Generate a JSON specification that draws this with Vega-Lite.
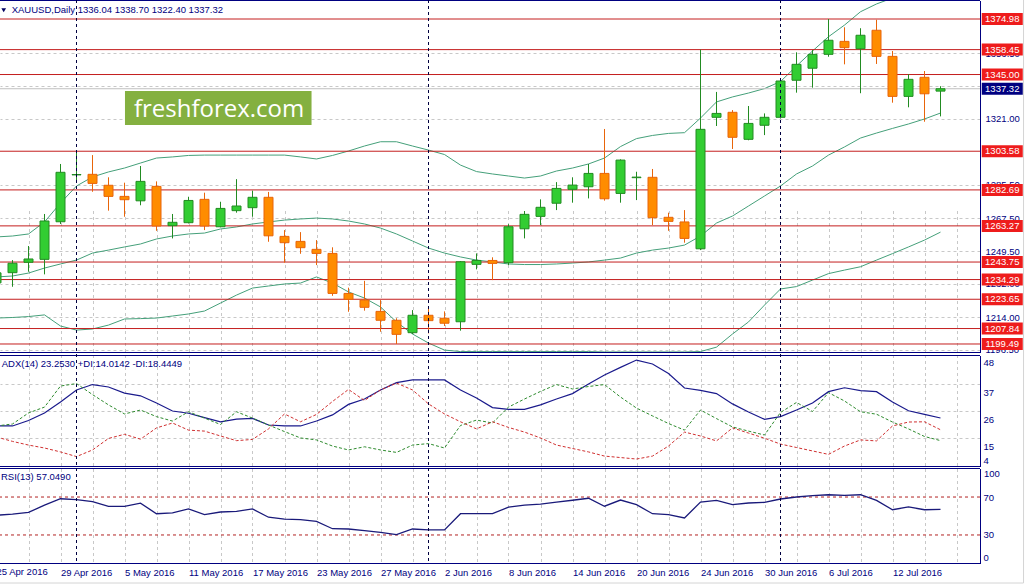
{
"$schema": "https://vega.github.io/schema/vega-lite/v6.json",
"width": 980, "height": 563,
"autosize": {"type": "none"},
"padding": {"left": 0, "top": 0, "right": 45, "bottom": 22},
"background": "#ffffff",
"config": {"view": {"stroke": null}, "font": "Liberation Sans", "axis": {"labelFont": "Liberation Sans"}},
"datasets": {
"bars": [
{"i":-1,"d":"25 Apr 2016","o":1232.5,"h":1240.5,"l":1229.5,"c":1237.9,"bu":1257.3,"bm":1235.7,"bl":1213.5,"adx":20.0,"pdi":20.0,"mdi":15.5,"rsi":50.8},
{"i":0,"d":"26 Apr 2016","o":1238.0,"h":1244.8,"l":1230.4,"c":1243.1,"bu":1257.8,"bm":1236.2,"bl":1213.8,"adx":20.0,"pdi":20.8,"mdi":13.7,"rsi":51.9},
{"i":1,"d":"27 Apr 2016","o":1243.6,"h":1252.4,"l":1238.5,"c":1245.4,"bu":1258.9,"bm":1237.8,"bl":1214.3,"adx":22.2,"pdi":25.3,"mdi":12.2,"rsi":53.8},
{"i":2,"d":"28 Apr 2016","o":1245.2,"h":1269.7,"l":1237.1,"c":1265.9,"bu":1265.4,"bm":1240.5,"bl":1215.2,"adx":25.3,"pdi":27.7,"mdi":11.0,"rsi":61.4},
{"i":3,"d":"29 Apr 2016","o":1265.5,"h":1296.7,"l":1264.3,"c":1292.2,"bu":1275.6,"bm":1242.7,"bl":1209.2,"adx":29.8,"pdi":36.3,"mdi":9.4,"rsi":68.2},
{"i":4,"d":"2 May 2016","o":1290.8,"h":1303.3,"l":1286.8,"c":1291.0,"bu":1284.8,"bm":1244.8,"bl":1207.0,"adx":34.7,"pdi":37.3,"mdi":7.5,"rsi":67.2},
{"i":5,"d":"3 May 2016","o":1291.1,"h":1301.5,"l":1281.7,"c":1286.2,"bu":1289.7,"bm":1248.6,"bl":1207.6,"adx":36.9,"pdi":32.8,"mdi":10.2,"rsi":65.1},
{"i":6,"d":"4 May 2016","o":1285.2,"h":1289.5,"l":1271.5,"c":1279.2,"bu":1292.4,"bm":1250.2,"bl":1209.7,"adx":35.9,"pdi":28.6,"mdi":14.9,"rsi":60.1},
{"i":7,"d":"5 May 2016","o":1279.2,"h":1286.6,"l":1268.2,"c":1277.4,"bu":1294.5,"bm":1251.9,"bl":1213.0,"adx":33.4,"pdi":24.9,"mdi":16.6,"rsi":60.1},
{"i":8,"d":"6 May 2016","o":1276.8,"h":1295.6,"l":1274.4,"c":1287.3,"bu":1297.2,"bm":1253.5,"bl":1213.2,"adx":32.3,"pdi":26.5,"mdi":14.6,"rsi":63.5},
{"i":9,"d":"9 May 2016","o":1284.6,"h":1287.3,"l":1260.6,"c":1263.2,"bu":1299.9,"bm":1256.2,"bl":1213.5,"adx":29.4,"pdi":23.8,"mdi":19.2,"rsi":52.4},
{"i":10,"d":"10 May 2016","o":1263.4,"h":1269.7,"l":1256.5,"c":1265.2,"bu":1300.5,"bm":1257.8,"bl":1214.6,"adx":26.1,"pdi":22.0,"mdi":21.2,"rsi":53.2},
{"i":11,"d":"11 May 2016","o":1265.0,"h":1279.0,"l":1264.6,"c":1277.0,"bu":1301.3,"bm":1258.9,"bl":1215.7,"adx":25.2,"pdi":25.8,"mdi":18.3,"rsi":57.4},
{"i":12,"d":"12 May 2016","o":1277.6,"h":1281.2,"l":1261.0,"c":1263.2,"bu":1301.5,"bm":1259.4,"bl":1217.3,"adx":23.4,"pdi":23.2,"mdi":17.9,"rsi":51.4},
{"i":13,"d":"13 May 2016","o":1262.8,"h":1276.3,"l":1262.5,"c":1272.7,"bu":1301.5,"bm":1261.6,"bl":1221.6,"adx":21.7,"pdi":20.6,"mdi":15.9,"rsi":54.2},
{"i":14,"d":"16 May 2016","o":1271.5,"h":1288.5,"l":1270.4,"c":1274.0,"bu":1301.5,"bm":1262.7,"bl":1225.9,"adx":22.8,"pdi":25.8,"mdi":14.0,"rsi":54.8},
{"i":15,"d":"17 May 2016","o":1273.1,"h":1282.3,"l":1268.2,"c":1278.7,"bu":1301.5,"bm":1264.3,"bl":1229.7,"adx":23.1,"pdi":23.2,"mdi":14.5,"rsi":57.4},
{"i":16,"d":"18 May 2016","o":1278.7,"h":1281.6,"l":1254.7,"c":1257.9,"bu":1301.5,"bm":1265.4,"bl":1230.8,"adx":20.4,"pdi":20.4,"mdi":18.8,"rsi":48.7},
{"i":17,"d":"19 May 2016","o":1257.6,"h":1261.0,"l":1243.4,"c":1254.2,"bu":1301.5,"bm":1266.4,"bl":1231.9,"adx":20.0,"pdi":17.7,"mdi":24.9,"rsi":46.8},
{"i":18,"d":"20 May 2016","o":1254.9,"h":1259.9,"l":1248.2,"c":1251.5,"bu":1300.5,"bm":1267.0,"bl":1232.4,"adx":20.0,"pdi":15.1,"mdi":21.7,"rsi":46.1},
{"i":19,"d":"23 May 2016","o":1250.6,"h":1255.6,"l":1242.1,"c":1248.4,"bu":1299.4,"bm":1267.5,"bl":1235.7,"adx":22.0,"pdi":14.3,"mdi":24.7,"rsi":44.3},
{"i":20,"d":"24 May 2016","o":1248.4,"h":1251.7,"l":1225.5,"c":1226.8,"bu":1301.3,"bm":1267.0,"bl":1232.4,"adx":24.5,"pdi":11.8,"mdi":30.0,"rsi":36.6},
{"i":21,"d":"25 May 2016","o":1226.8,"h":1229.9,"l":1216.9,"c":1223.6,"bu":1303.7,"bm":1265.9,"bl":1227.6,"adx":28.8,"pdi":10.2,"mdi":34.9,"rsi":36.3},
{"i":22,"d":"26 May 2016","o":1223.2,"h":1233.6,"l":1217.5,"c":1219.3,"bu":1306.4,"bm":1264.3,"bl":1224.3,"adx":31.0,"pdi":11.5,"mdi":30.4,"rsi":34.5},
{"i":23,"d":"27 May 2016","o":1217.1,"h":1223.2,"l":1206.1,"c":1212.3,"bu":1308.7,"bm":1262.1,"bl":1219.5,"adx":34.7,"pdi":10.2,"mdi":34.7,"rsi":32.7},
{"i":24,"d":"30 May 2016","o":1212.3,"h":1213.4,"l":1199.5,"c":1204.7,"bu":1308.7,"bm":1258.9,"bl":1211.4,"adx":37.7,"pdi":9.2,"mdi":37.5,"rsi":30.3},
{"i":25,"d":"31 May 2016","o":1205.6,"h":1217.8,"l":1204.9,"c":1215.0,"bu":1306.4,"bm":1255.1,"bl":1204.9,"adx":38.8,"pdi":12.2,"mdi":34.7,"rsi":36.3},
{"i":26,"d":"1 Jun 2016","o":1215.0,"h":1220.0,"l":1205.2,"c":1212.1,"bu":1304.2,"bm":1251.3,"bl":1200.0,"adx":38.8,"pdi":12.8,"mdi":29.0,"rsi":35.3},
{"i":27,"d":"2 Jun 2016","o":1213.4,"h":1217.1,"l":1209.2,"c":1210.7,"bu":1301.8,"bm":1248.6,"bl":1196.2,"adx":38.8,"pdi":11.0,"mdi":24.9,"rsi":35.3},
{"i":28,"d":"3 Jun 2016","o":1211.5,"h":1244.3,"l":1206.7,"c":1243.9,"bu":1296.1,"bm":1246.5,"bl":1195.4,"adx":34.7,"pdi":20.2,"mdi":21.7,"rsi":52.4},
{"i":29,"d":"6 Jun 2016","o":1242.5,"h":1248.4,"l":1239.8,"c":1244.6,"bu":1292.6,"bm":1244.8,"bl":1195.4,"adx":31.4,"pdi":22.4,"mdi":18.8,"rsi":52.4},
{"i":30,"d":"7 Jun 2016","o":1244.6,"h":1246.3,"l":1234.0,"c":1243.0,"bu":1291.3,"bm":1243.8,"bl":1195.4,"adx":27.5,"pdi":21.2,"mdi":21.7,"rsi":52.4},
{"i":31,"d":"8 Jun 2016","o":1243.4,"h":1264.2,"l":1242.1,"c":1262.8,"bu":1290.2,"bm":1242.7,"bl":1195.4,"adx":26.8,"pdi":27.7,"mdi":19.4,"rsi":59.3},
{"i":32,"d":"9 Jun 2016","o":1261.7,"h":1271.3,"l":1256.5,"c":1269.5,"bu":1289.1,"bm":1242.4,"bl":1195.4,"adx":26.8,"pdi":31.0,"mdi":17.5,"rsi":61.4},
{"i":33,"d":"10 Jun 2016","o":1268.4,"h":1277.6,"l":1263.7,"c":1273.3,"bu":1290.2,"bm":1242.4,"bl":1195.4,"adx":28.6,"pdi":34.1,"mdi":15.1,"rsi":62.6},
{"i":34,"d":"13 Jun 2016","o":1275.5,"h":1286.9,"l":1271.8,"c":1283.5,"bu":1292.9,"bm":1242.7,"bl":1195.4,"adx":31.0,"pdi":36.9,"mdi":12.2,"rsi":64.7},
{"i":35,"d":"14 Jun 2016","o":1283.0,"h":1289.5,"l":1275.8,"c":1285.3,"bu":1294.5,"bm":1243.2,"bl":1195.4,"adx":33.2,"pdi":35.1,"mdi":10.8,"rsi":66.6},
{"i":36,"d":"15 Jun 2016","o":1284.4,"h":1296.7,"l":1278.1,"c":1291.6,"bu":1296.7,"bm":1243.8,"bl":1195.4,"adx":37.1,"pdi":36.1,"mdi":9.4,"rsi":68.7},
{"i":37,"d":"16 Jun 2016","o":1291.6,"h":1315.6,"l":1276.9,"c":1277.9,"bu":1299.9,"bm":1244.8,"bl":1195.2,"adx":40.8,"pdi":36.9,"mdi":7.7,"rsi":60.3},
{"i":38,"d":"17 Jun 2016","o":1280.8,"h":1299.2,"l":1275.8,"c":1298.8,"bu":1306.1,"bm":1245.9,"bl":1195.2,"adx":43.9,"pdi":31.8,"mdi":7.1,"rsi":66.8},
{"i":39,"d":"20 Jun 2016","o":1289.3,"h":1292.5,"l":1277.2,"c":1289.6,"bu":1310.4,"bm":1248.6,"bl":1195.2,"adx":46.9,"pdi":27.3,"mdi":6.5,"rsi":61.9},
{"i":40,"d":"21 Jun 2016","o":1289.5,"h":1294.0,"l":1263.7,"c":1267.7,"bu":1312.1,"bm":1250.2,"bl":1195.2,"adx":45.3,"pdi":24.1,"mdi":7.7,"rsi":52.4},
{"i":41,"d":"22 Jun 2016","o":1267.9,"h":1270.4,"l":1260.6,"c":1265.7,"bu":1313.2,"bm":1251.3,"bl":1195.2,"adx":41.4,"pdi":21.0,"mdi":11.8,"rsi":51.4},
{"i":42,"d":"23 Jun 2016","o":1265.4,"h":1271.8,"l":1254.2,"c":1256.5,"bu":1313.6,"bm":1252.9,"bl":1195.2,"adx":35.5,"pdi":18.3,"mdi":17.5,"rsi":47.9},
{"i":43,"d":"24 Jun 2016","o":1250.9,"h":1358.45,"l":1250.2,"c":1315.4,"bu":1321.5,"bm":1257.8,"bl":1195.4,"adx":34.5,"pdi":26.5,"mdi":15.9,"rsi":64.7},
{"i":44,"d":"27 Jun 2016","o":1321.9,"h":1335.6,"l":1317.2,"c":1324.0,"bu":1330.2,"bm":1264.8,"bl":1197.8,"adx":33.2,"pdi":23.0,"mdi":13.9,"rsi":66.4},
{"i":45,"d":"28 Jun 2016","o":1324.6,"h":1325.8,"l":1304.8,"c":1311.1,"bu":1332.9,"bm":1268.6,"bl":1204.9,"adx":29.0,"pdi":19.6,"mdi":19.2,"rsi":61.9},
{"i":46,"d":"29 Jun 2016","o":1310.0,"h":1328.0,"l":1309.5,"c":1318.6,"bu":1335.0,"bm":1274.0,"bl":1211.4,"adx":25.7,"pdi":17.9,"mdi":17.1,"rsi":63.7},
{"i":47,"d":"30 Jun 2016","o":1317.6,"h":1324.0,"l":1312.3,"c":1321.9,"bu":1337.4,"bm":1279.4,"bl":1220.5,"adx":22.7,"pdi":16.3,"mdi":15.0,"rsi":64.3},
{"i":48,"d":"1 Jul 2016","o":1321.9,"h":1342.2,"l":1321.2,"c":1341.5,"bu":1341.2,"bm":1284.8,"bl":1229.2,"adx":23.8,"pdi":25.5,"mdi":12.6,"rsi":67.9},
{"i":49,"d":"4 Jul 2016","o":1341.9,"h":1357.0,"l":1335.2,"c":1350.5,"bu":1349.6,"bm":1291.3,"bl":1230.5,"adx":26.5,"pdi":29.6,"mdi":11.2,"rsi":70.0},
{"i":50,"d":"5 Jul 2016","o":1348.4,"h":1358.2,"l":1337.9,"c":1355.9,"bu":1357.7,"bm":1295.6,"bl":1234.0,"adx":29.4,"pdi":25.9,"mdi":9.8,"rsi":71.4},
{"i":51,"d":"6 Jul 2016","o":1355.9,"h":1374.98,"l":1354.6,"c":1363.5,"bu":1365.4,"bm":1301.5,"bl":1237.5,"adx":34.0,"pdi":33.6,"mdi":8.4,"rsi":72.4},
{"i":52,"d":"7 Jul 2016","o":1362.9,"h":1370.5,"l":1350.5,"c":1359.5,"bu":1371.7,"bm":1305.9,"bl":1239.4,"adx":35.6,"pdi":30.2,"mdi":11.8,"rsi":71.7},
{"i":53,"d":"8 Jul 2016","o":1358.9,"h":1370.0,"l":1334.9,"c":1366.2,"bu":1378.9,"bm":1310.7,"bl":1241.2,"adx":34.4,"pdi":25.8,"mdi":14.3,"rsi":72.4},
{"i":54,"d":"11 Jul 2016","o":1368.9,"h":1374.6,"l":1350.7,"c":1354.8,"bu":1383.1,"bm":1313.4,"bl":1244.8,"adx":34.0,"pdi":24.8,"mdi":13.9,"rsi":66.4},
{"i":55,"d":"12 Jul 2016","o":1354.8,"h":1357.7,"l":1329.8,"c":1333.2,"bu":1386.3,"bm":1315.9,"bl":1248.3,"adx":29.8,"pdi":21.6,"mdi":20.0,"rsi":56.6},
{"i":56,"d":"13 Jul 2016","o":1333.2,"h":1345.2,"l":1327.3,"c":1342.4,"bu":1389.0,"bm":1318.3,"bl":1251.9,"adx":26.2,"pdi":18.8,"mdi":21.6,"rsi":59.5},
{"i":57,"d":"14 Jul 2016","o":1343.5,"h":1346.9,"l":1319.5,"c":1334.6,"bu":1391.2,"bm":1321.0,"bl":1255.6,"adx":24.7,"pdi":15.7,"mdi":21.7,"rsi":56.6},
{"i":58,"d":"15 Jul 2016","o":1336.04,"h":1338.7,"l":1322.4,"c":1337.32,"bu":1392.8,"bm":1324.2,"bl":1259.9,"adx":23.253,"pdi":14.0142,"mdi":18.4449,"rsi":57.049}
],
"levels": [{"p":1374.98},{"p":1358.45},{"p":1345.00},{"p":1303.58},{"p":1282.69},{"p":1263.27},{"p":1243.75},{"p":1234.29},{"p":1223.65},{"p":1207.84},{"p":1199.49}]
},
"layer": [
 {"data": {"name": "bars"}, "mark": {"type": "line", "color": "#45A07A", "strokeWidth": 1, "clip": true},
  "encoding": {
   "x": {"field": "i", "type": "quantitative", "scale": {"domain": [-0.78125, 60.46875], "nice": false, "zero": false, "padding": 0},
     "axis": {"orient": "bottom", "values": [-1,1,3,5,7,9,11,13,15,17,19,21,23,25,27,29,31,33,35,37,39,41,43,45,47,49,51,53,55,57,59],
       "labelExpr": "datum.value <= 55 && (datum.value + 1) % 4 == 0 ? ['25 Apr 2016','29 Apr 2016','5 May 2016','11 May 2016','17 May 2016','23 May 2016','27 May 2016','2 Jun 2016','8 Jun 2016','14 Jun 2016','20 Jun 2016','24 Jun 2016','30 Jun 2016','6 Jul 2016','12 Jul 2016'][(datum.value + 1) / 4] : ''",
       "grid": true, "gridColor": "#C8C8C8", "gridDash": [3,3], "gridWidth": 1, "ticks": false, "domain": true, "domainColor": "#000080",
       "labelAlign": "left", "labelBaseline": "top", "labelPadding": 4, "labelFlush": false, "labelOverlap": false, "labelColor": "#000080", "labelFontSize": 9.5, "title": null}},
   "y": {"field": "bu", "type": "quantitative", "scale": {"domain": [1194.9, 1384.97], "range": [352.5, 0.5], "nice": false, "zero": false},
     "axis": {"orient": "right", "values": [1196.5,1214,1232,1249.5,1267.5,1285.5,1321,1339,1356.5], "format": ".2f",
       "grid": true, "gridColor": "#C8C8C8", "gridDash": [3,3], "ticks": false, "domain": true, "domainColor": "#000080",
       "labelPadding": 5, "labelColor": "#000080", "labelFontSize": 9.5, "labelFlush": false, "labelOverlap": false, "title": null}}
  }},
 {"data": {"name": "bars"}, "mark": {"type": "line", "color": "#45A07A", "strokeWidth": 1, "clip": true},
  "encoding": {"x": {"field": "i", "type": "quantitative", "axis": null},
   "y": {"field": "bm", "type": "quantitative", "scale": {"domain": [1194.9, 1384.97], "range": [352.5, 0.5], "nice": false, "zero": false}, "axis": null}}},
 {"data": {"name": "bars"}, "mark": {"type": "line", "color": "#45A07A", "strokeWidth": 1, "clip": true},
  "encoding": {"x": {"field": "i", "type": "quantitative", "axis": null},
   "y": {"field": "bl", "type": "quantitative", "scale": {"domain": [1194.9, 1384.97], "range": [352.5, 0.5], "nice": false, "zero": false}, "axis": null}}},
 {"data": {"name": "bars"}, "transform": [{"filter": "datum.i == 58"}], "mark": {"type": "rule", "color": "#C0C0C0", "strokeWidth": 1},
  "encoding": {"y": {"field": "c", "type": "quantitative", "scale": {"domain": [1194.9, 1384.97], "range": [352.5, 0.5], "nice": false, "zero": false}, "axis": null}}},
 {"data": {"name": "levels"}, "mark": {"type": "rule", "color": "#C41E1E", "strokeWidth": 1},
  "encoding": {"y": {"field": "p", "type": "quantitative", "scale": {"domain": [1194.9, 1384.97], "range": [352.5, 0.5], "nice": false, "zero": false}, "axis": null}}},
 {"data": {"name": "bars"}, "mark": {"type": "rule", "strokeWidth": 1, "clip": true},
  "encoding": {"x": {"field": "i", "type": "quantitative", "axis": null},
   "y": {"field": "l", "type": "quantitative", "scale": {"domain": [1194.9, 1384.97], "range": [352.5, 0.5], "nice": false, "zero": false}, "axis": null},
   "y2": {"field": "h"},
   "color": {"condition": {"test": "datum.c >= datum.o", "value": "#228B22"}, "value": "#E8650A"}}},
 {"data": {"name": "bars"}, "mark": {"type": "bar", "size": 9, "strokeWidth": 1, "clip": true},
  "encoding": {"x": {"field": "i", "type": "quantitative", "axis": null},
   "y": {"field": "o", "type": "quantitative", "scale": {"domain": [1194.9, 1384.97], "range": [352.5, 0.5], "nice": false, "zero": false, "padding": 0}, "axis": null},
   "y2": {"field": "c"},
   "fill": {"condition": {"test": "datum.c >= datum.o", "value": "#32CD32"}, "value": "#FF8C00"},
   "stroke": {"condition": {"test": "datum.c >= datum.o", "value": "#228B22"}, "value": "#E8650A"}}},
 {"data": {"values": [{}]}, "mark": {"type": "rect", "color": "#84B040"},
  "encoding": {"x": {"datum": 7.03, "type": "quantitative", "axis": null}, "x2": {"datum": 18.69},
   "y": {"datum": 1336.1, "type": "quantitative", "scale": {"domain": [1194.9, 1384.97], "range": [352.5, 0.5], "nice": false, "zero": false, "padding": 0}, "axis": null}, "y2": {"datum": 1317.74}}},
 {"data": {"values": [{}]}, "mark": {"type": "text", "text": "freshforex.com", "font": "Open Sans", "fontSize": 24, "color": "#ffffff", "align": "center", "baseline": "alphabetic"},
  "encoding": {"x": {"datum": 12.91, "type": "quantitative", "axis": null},
   "y": {"datum": 1321.9, "type": "quantitative", "scale": {"domain": [1194.9, 1384.97], "range": [352.5, 0.5], "nice": false, "zero": false}, "axis": null}}},
 {"data": {"values": [{}]}, "mark": {"type": "text", "text": "XAUUSD,Daily  1336.04 1338.70 1322.40 1337.32", "fontSize": 9.5, "color": "#000080", "align": "left", "baseline": "middle"},
  "encoding": {"x": {"datum": -0.05, "type": "quantitative", "axis": null},
   "y": {"datum": 1379.84, "type": "quantitative", "scale": {"domain": [1194.9, 1384.97], "range": [352.5, 0.5], "nice": false, "zero": false}, "axis": null}}},
 {"data": {"values": [{}]}, "mark": {"type": "point", "shape": "triangle-down", "size": 22, "filled": true, "color": "#000060", "opacity": 1},
  "encoding": {"x": {"datum": -0.55, "type": "quantitative", "axis": null},
   "y": {"datum": 1379.7, "type": "quantitative", "scale": {"domain": [1194.9, 1384.97], "range": [352.5, 0.5], "nice": false, "zero": false}, "axis": null}}},
 {"data": {"name": "levels"}, "mark": {"type": "tick", "orient": "horizontal", "size": 41, "thickness": 12, "color": "#EE1C1C", "opacity": 1, "clip": false},
  "encoding": {"x": {"datum": 61.86, "type": "quantitative", "axis": null},
   "y": {"field": "p", "type": "quantitative", "scale": {"domain": [1194.9, 1384.97], "range": [352.5, 0.5], "nice": false, "zero": false, "padding": 0}, "axis": null}}},
 {"data": {"name": "levels"}, "mark": {"type": "text", "fontSize": 9.5, "color": "#ffffff", "align": "center", "baseline": "middle", "clip": false},
  "encoding": {"x": {"datum": 61.86, "type": "quantitative", "axis": null},
   "y": {"field": "p", "type": "quantitative", "scale": {"domain": [1194.9, 1384.97], "range": [352.5, 0.5], "nice": false, "zero": false}, "axis": null},
   "text": {"field": "p", "type": "quantitative", "format": ".2f"}}},
 {"data": {"name": "bars"}, "transform": [{"filter": "datum.i == 58"}], "mark": {"type": "tick", "orient": "horizontal", "size": 41, "thickness": 12, "color": "#000080", "opacity": 1, "clip": false},
  "encoding": {"x": {"datum": 61.86, "type": "quantitative", "axis": null},
   "y": {"field": "c", "type": "quantitative", "scale": {"domain": [1194.9, 1384.97], "range": [352.5, 0.5], "nice": false, "zero": false, "padding": 0}, "axis": null}}},
 {"data": {"name": "bars"}, "transform": [{"filter": "datum.i == 58"}], "mark": {"type": "text", "fontSize": 9.5, "color": "#ffffff", "align": "center", "baseline": "middle", "clip": false},
  "encoding": {"x": {"datum": 61.86, "type": "quantitative", "axis": null},
   "y": {"field": "c", "type": "quantitative", "scale": {"domain": [1194.9, 1384.97], "range": [352.5, 0.5], "nice": false, "zero": false}, "axis": null},
   "text": {"field": "c", "type": "quantitative", "format": ".2f"}}},
 {"data": {"values": [{}]}, "mark": {"type": "rule", "color": "#000080", "strokeWidth": 1},
  "encoding": {"y": {"datum": 1384.97, "type": "quantitative", "scale": {"domain": [1194.9, 1384.97], "range": [352.5, 0.5], "nice": false, "zero": false}, "axis": null}}},
 {"data": {"values": [{}]}, "mark": {"type": "rule", "color": "#000080", "strokeWidth": 1},
  "encoding": {"y": {"datum": 1194.9, "type": "quantitative", "scale": {"domain": [1194.9, 1384.97], "range": [352.5, 0.5], "nice": false, "zero": false}, "axis": null}}},
 {"data": {"name": "bars"}, "mark": {"type": "line", "color": "#1A1A8C", "strokeWidth": 1.2},
  "encoding": {"x": {"field": "i", "type": "quantitative", "axis": null},
   "y": {"field": "adx", "type": "quantitative", "scale": {"domain": [3.45, 48.76], "range": [466.5, 355.5], "nice": false, "zero": false},
     "axis": {"orient": "right", "values": [37,26,15], "grid": true, "gridColor": "#C8C8C8", "gridDash": [3,3],
       "ticks": false, "domain": true, "domainColor": "#000080", "labelPadding": 3, "labelColor": "#000080", "labelFontSize": 9.5,
       "labelBaseline": "top", "labelOffset": 3, "labelFlush": false, "labelOverlap": false, "title": null}}}},
 {"data": {"name": "bars"}, "mark": {"type": "line", "color": "#2E8B2E", "strokeWidth": 1, "strokeDash": [3,2]},
  "encoding": {"x": {"field": "i", "type": "quantitative", "axis": null},
   "y": {"field": "pdi", "type": "quantitative", "scale": {"domain": [3.45, 48.76], "range": [466.5, 355.5], "nice": false, "zero": false}, "axis": null}}},
 {"data": {"name": "bars"}, "mark": {"type": "line", "color": "#D03030", "strokeWidth": 1, "strokeDash": [3,2]},
  "encoding": {"x": {"field": "i", "type": "quantitative", "axis": null},
   "y": {"field": "mdi", "type": "quantitative", "scale": {"domain": [3.45, 48.76], "range": [466.5, 355.5], "nice": false, "zero": false}, "axis": null}}},
 {"data": {"values": [{}]}, "mark": {"type": "text", "text": "ADX(14) 23.2530 +DI:14.0142 -DI:18.4449", "fontSize": 9.5, "color": "#000080", "align": "left", "baseline": "middle"},
  "encoding": {"x": {"datum": -0.675, "type": "quantitative", "axis": null},
   "y": {"datum": 45.3, "type": "quantitative", "scale": {"domain": [3.45, 48.76], "range": [466.5, 355.5], "nice": false, "zero": false}, "axis": null}}},
 {"data": {"values": [{}]}, "mark": {"type": "rule", "color": "#000080", "strokeWidth": 1},
  "encoding": {"y": {"datum": 48.76, "type": "quantitative", "scale": {"domain": [3.45, 48.76], "range": [466.5, 355.5], "nice": false, "zero": false},
   "axis": {"orient": "right", "values": [48], "grid": false, "ticks": false, "domain": false, "labelPadding": 3, "labelColor": "#000080", "labelFontSize": 9.5,
     "labelBaseline": "top", "labelFlush": false, "labelOverlap": false, "title": null}}}},
 {"data": {"values": [{}]}, "mark": {"type": "rule", "color": "#000080", "strokeWidth": 1},
  "encoding": {"y": {"datum": 3.45, "type": "quantitative", "scale": {"domain": [3.45, 48.76], "range": [466.5, 355.5], "nice": false, "zero": false},
   "axis": {"orient": "right", "values": [4], "grid": false, "ticks": false, "domain": false, "labelPadding": 3, "labelColor": "#000080", "labelFontSize": 9.5,
     "labelBaseline": "bottom", "labelFlush": false, "labelOverlap": false, "title": null}}}},
 {"data": {"values": [{}]}, "mark": {"type": "rule", "color": "#B22222", "strokeWidth": 1, "strokeDash": [3,3]},
  "encoding": {"y": {"datum": 70, "type": "quantitative", "scale": {"domain": [-0.05, 100.05], "range": [563.5, 468.5], "nice": false, "zero": false}, "axis": null}}},
 {"data": {"values": [{}]}, "mark": {"type": "rule", "color": "#B22222", "strokeWidth": 1, "strokeDash": [3,3]},
  "encoding": {"y": {"datum": 30, "type": "quantitative", "scale": {"domain": [-0.05, 100.05], "range": [563.5, 468.5], "nice": false, "zero": false}, "axis": null}}},
 {"data": {"name": "bars"}, "mark": {"type": "line", "color": "#1A1A7A", "strokeWidth": 1.3},
  "encoding": {"x": {"field": "i", "type": "quantitative", "axis": null},
   "y": {"field": "rsi", "type": "quantitative", "scale": {"domain": [-0.05, 100.05], "range": [563.5, 468.5], "nice": false, "zero": false},
     "axis": {"orient": "right", "values": [70,30], "grid": false, "ticks": false, "domain": true, "domainColor": "#000080",
       "labelPadding": 3, "labelColor": "#000080", "labelFontSize": 9.5, "labelBaseline": "middle",
       "labelFlush": false, "labelOverlap": false, "title": null}}}},
 {"data": {"values": [{}]}, "mark": {"type": "text", "text": "100", "fontSize": 9.5, "color": "#000080", "align": "left", "baseline": "top", "clip": false},
  "encoding": {"x": {"datum": 60.72, "type": "quantitative", "axis": null},
   "y": {"datum": 99.0, "type": "quantitative", "scale": {"domain": [-0.05, 100.05], "range": [563.5, 468.5], "nice": false, "zero": false}, "axis": null}}},
 {"data": {"values": [{}]}, "mark": {"type": "text", "text": "RSI(13) 57.0490", "fontSize": 9.5, "color": "#000080", "align": "left", "baseline": "middle"},
  "encoding": {"x": {"datum": -0.72, "type": "quantitative", "axis": null},
   "y": {"datum": 91.05, "type": "quantitative", "scale": {"domain": [-0.05, 100.05], "range": [563.5, 468.5], "nice": false, "zero": false}, "axis": null}}},
 {"data": {"values": [{}]}, "mark": {"type": "rule", "color": "#000080", "strokeWidth": 1},
  "encoding": {"y": {"datum": 100.05, "type": "quantitative", "scale": {"domain": [-0.05, 100.05], "range": [563.5, 468.5], "nice": false, "zero": false}, "axis": null}}},
 {"data": {"values": [{}]}, "mark": {"type": "rule", "color": "#000080", "strokeWidth": 1},
  "encoding": {"y": {"datum": -0.05, "type": "quantitative", "scale": {"domain": [-0.05, 100.05], "range": [563.5, 468.5], "nice": false, "zero": false},
   "axis": {"orient": "right", "values": [0], "grid": false, "ticks": false, "domain": false, "labelPadding": 3, "labelColor": "#000080", "labelFontSize": 9.5,
     "labelBaseline": "bottom", "labelOffset": -1, "labelFlush": false, "labelOverlap": false, "title": null}}}},
 {"data": {"name": "bars"}, "transform": [{"filter": "datum.i == -1"}],
  "mark": {"type": "text", "fontSize": 9.5, "color": "#000080", "align": "left", "baseline": "top", "clip": false},
  "encoding": {"x": {"field": "i", "type": "quantitative", "axis": null},
   "y": {"datum": -4.2, "type": "quantitative", "scale": {"domain": [-0.05, 100.05], "range": [563.5, 468.5], "nice": false, "zero": false}, "axis": null},
   "text": {"field": "d"}}},
 {"data": {"values": [{}]}, "mark": {"type": "rule", "color": "#D4D4D4", "strokeWidth": 1, "clip": false},
  "encoding": {"x": {"datum": 63.19, "type": "quantitative", "axis": null},
   "y": {"datum": 593.7, "type": "quantitative", "scale": {"domain": [-0.05, 100.05], "range": [563.5, 468.5], "nice": false, "zero": false}, "axis": null},
   "y2": {"datum": -20.6}}},
 {"data": {"values": [{}]}, "mark": {"type": "rule", "color": "#D4D4D4", "strokeWidth": 1, "clip": false},
  "encoding": {"x": {"datum": -0.78125, "type": "quantitative", "axis": null}, "x2": {"datum": 63.19},
   "y": {"datum": -20.6, "type": "quantitative", "scale": {"domain": [-0.05, 100.05], "range": [563.5, 468.5], "nice": false, "zero": false}, "axis": null}}},
 {"data": {"name": "bars"}, "transform": [{"filter": "datum.i == 4 || datum.i == 26 || datum.i == 48"}],
  "mark": {"type": "rule", "color": "#000040", "strokeWidth": 1, "strokeDash": [3,3]},
  "encoding": {"x": {"field": "i", "type": "quantitative", "axis": null}}}
],
"resolve": {"scale": {"y": "independent"}, "axis": {"y": "independent", "x": "independent"}}
}
